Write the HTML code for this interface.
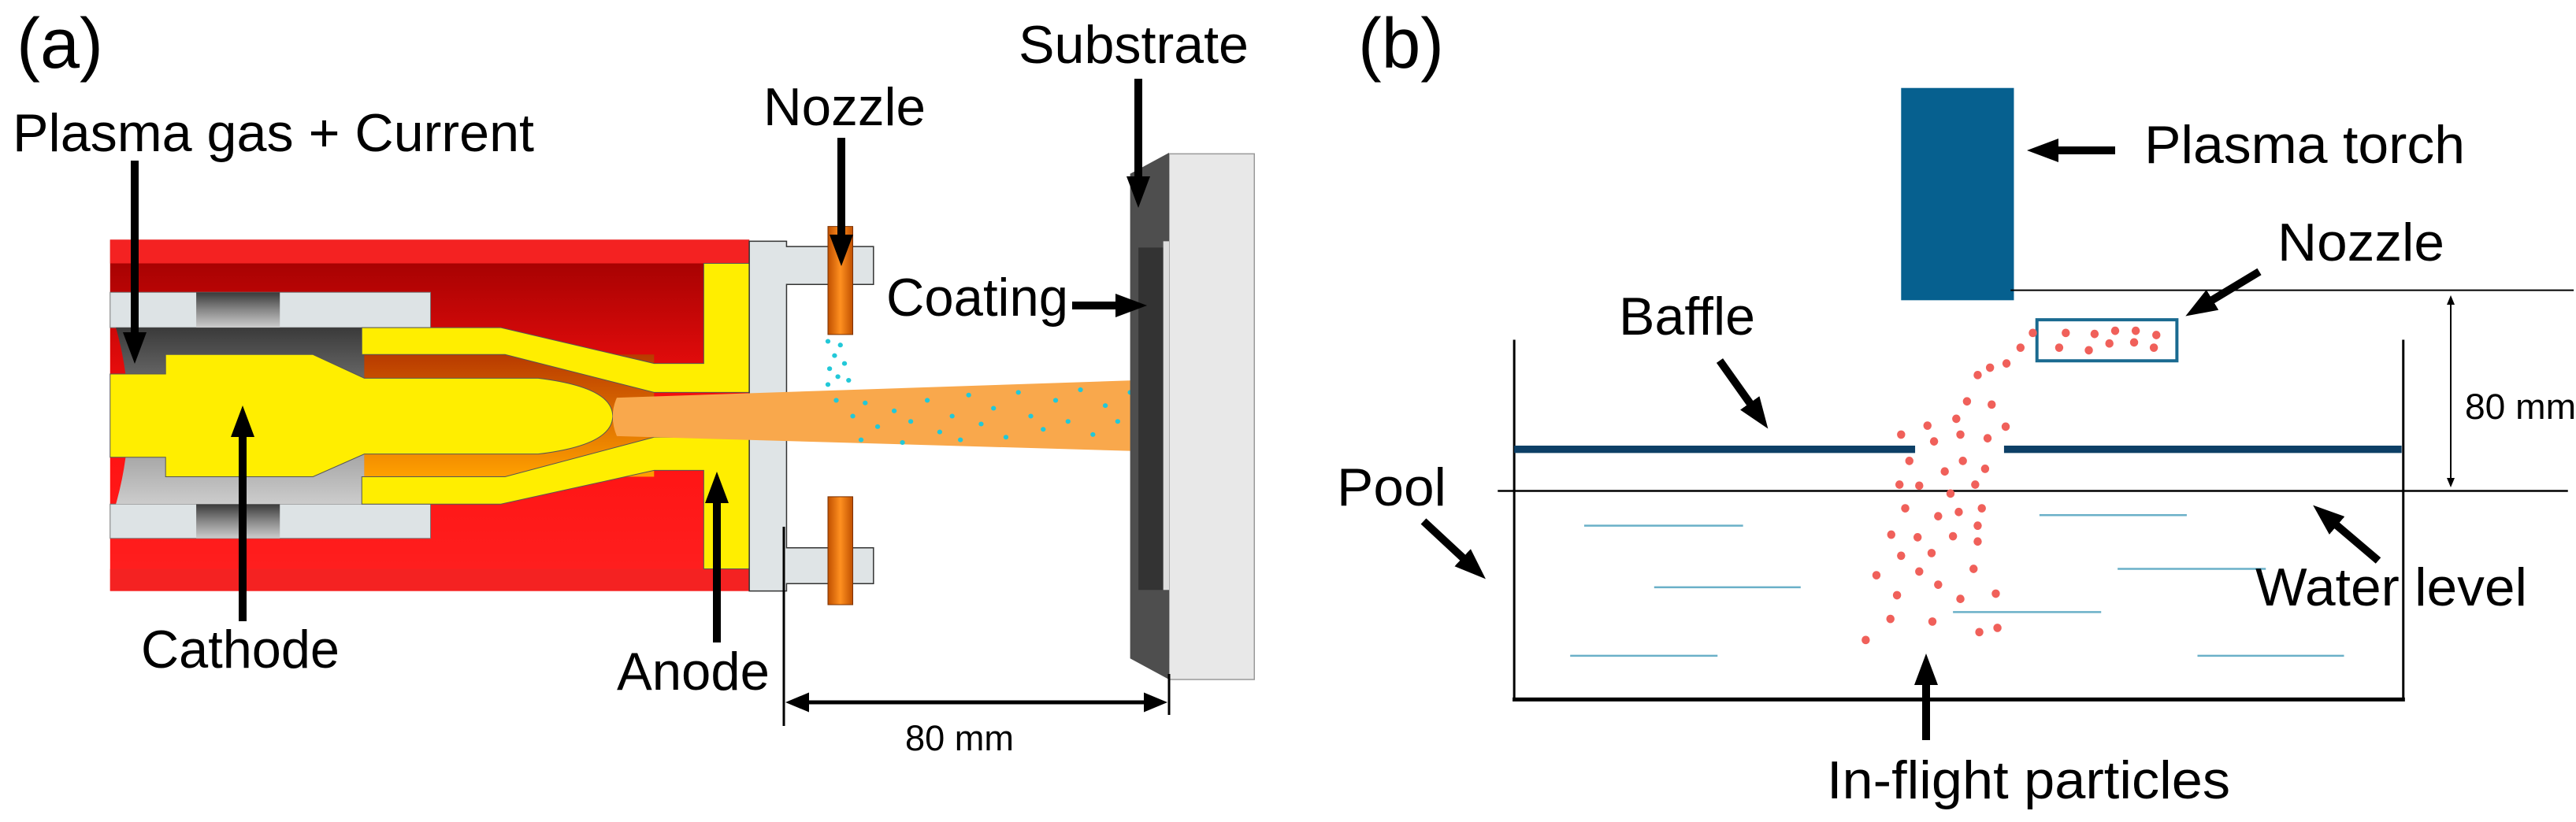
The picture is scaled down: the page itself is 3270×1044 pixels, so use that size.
<!DOCTYPE html>
<html><head><meta charset="utf-8"><style>html,body{margin:0;padding:0;background:#fff}svg{display:block}</style></head>
<body>
<svg width="3270" height="1044" viewBox="0 0 3270 1044" xmlns="http://www.w3.org/2000/svg" font-family="Liberation Sans, Arial, sans-serif">
<defs>
<marker id="ah" markerWidth="4" markerHeight="3" refX="1" refY="1.5" orient="auto" markerUnits="strokeWidth"><path d="M0,0 L4,1.5 L0,3 z" fill="#000"/></marker>
<marker id="sm" markerWidth="6" markerHeight="5" refX="1" refY="2.5" orient="auto-start-reverse" markerUnits="strokeWidth"><path d="M0,0 L6,2.5 L0,5 z" fill="#000"/></marker>
<linearGradient id="rd" x1="0" y1="0" x2="0" y2="1"><stop offset="0" stop-color="#9a0000"/><stop offset="0.5" stop-color="#ff1010"/><stop offset="1" stop-color="#ff2020"/></linearGradient>
<linearGradient id="gr" x1="0" y1="0" x2="0" y2="1"><stop offset="0" stop-color="#3a3a3a"/><stop offset="0.5" stop-color="#888"/><stop offset="1" stop-color="#ccc"/></linearGradient>
<linearGradient id="og" x1="0" y1="0" x2="0" y2="1"><stop offset="0" stop-color="#b83a00"/><stop offset="1" stop-color="#ffa000"/></linearGradient>
<linearGradient id="nz" x1="0" y1="0" x2="1" y2="0"><stop offset="0" stop-color="#c05000"/><stop offset="0.5" stop-color="#ff9020"/><stop offset="1" stop-color="#c05000"/></linearGradient>
</defs>

<!-- LEFT PANEL shapes (zoom coords) -->
<g transform="scale(1.051,0.669)">
  <rect x="133" y="455" width="772" height="667" fill="url(#rd)"/>
  <rect x="133" y="455" width="772" height="45" fill="#f42222"/>
  <rect x="133" y="1080" width="772" height="42" fill="#f42222"/>
  <!-- rings -->
  <rect x="133" y="555" width="387" height="67" fill="#dde3e5" stroke="#777" stroke-width="1" vector-effect="non-scaling-stroke"/>
  <rect x="237" y="555" width="101" height="67" fill="url(#gr)"/>
  <rect x="133" y="957" width="387" height="65" fill="#dde3e5" stroke="#777" stroke-width="1" vector-effect="non-scaling-stroke"/>
  <rect x="237" y="957" width="101" height="65" fill="url(#gr)"/>
  <!-- cavity -->
  <path d="M140,622 L440,622 L440,957 L140,957 Q170,790 140,622 Z" fill="url(#gr)"/>
  <!-- orange channel -->
  <rect x="440" y="673" width="350" height="232" fill="url(#og)"/>
  <!-- anode -->
  <path d="M437,622 L605,622 L790,690 L850,690 L850,500 L905,500 L905,745 L790,745 L610,673 L437,673 Z" fill="#ffee00" stroke="#555" stroke-width="1" vector-effect="non-scaling-stroke"/>
  <path d="M437,957 L605,957 L790,893 L850,893 L850,1080 L905,1080 L905,830 L790,830 L610,905 L437,905 Z" fill="#ffee00" stroke="#555" stroke-width="1" vector-effect="non-scaling-stroke"/>
  <!-- cathode -->
  <path d="M133,710 L200,710 L200,673 L378,673 L440,718 L650,718 Q740,735 740,790 Q740,845 650,862 L440,862 L378,905 L200,905 L200,868 L133,868 Z" fill="#ffee00" stroke="#555" stroke-width="1" vector-effect="non-scaling-stroke"/>
  <!-- flange -->
  <path d="M905,458 L950,458 L950,468 L1055,468 L1055,540 L950,540 L950,1040 L1055,1040 L1055,1108 L950,1108 L950,1122 L905,1122 Z" fill="#dfe4e6" stroke="#333" stroke-width="1.5" vector-effect="non-scaling-stroke"/>
  <!-- jet -->
  <path d="M745,755 L1410,720 L1410,858 L745,828 Q735,790 745,755 Z" fill="#f9a84c"/>
  <!-- nozzles -->
  <rect x="1000" y="430" width="30" height="205" fill="url(#nz)" stroke="#7a3000" stroke-width="1" vector-effect="non-scaling-stroke"/>
  <rect x="1000" y="943" width="30" height="205" fill="url(#nz)" stroke="#7a3000" stroke-width="1" vector-effect="non-scaling-stroke"/>
  <!-- cyan particles -->
  <g fill="#22c8d8">
    <ellipse cx="1000" cy="648" rx="3" ry="4.5"/><ellipse cx="1015" cy="655" rx="3" ry="4.5"/><ellipse cx="1008" cy="675" rx="3" ry="4.5"/><ellipse cx="1020" cy="690" rx="3" ry="4.5"/><ellipse cx="1002" cy="700" rx="3" ry="4.5"/><ellipse cx="1012" cy="715" rx="3" ry="4.5"/><ellipse cx="1025" cy="722" rx="3" ry="4.5"/><ellipse cx="1000" cy="730" rx="3" ry="4.5"/>
    <ellipse cx="1010" cy="760" rx="3" ry="4.5"/><ellipse cx="1030" cy="790" rx="3" ry="4.5"/><ellipse cx="1045" cy="765" rx="3" ry="4.5"/><ellipse cx="1060" cy="810" rx="3" ry="4.5"/><ellipse cx="1080" cy="780" rx="3" ry="4.5"/><ellipse cx="1100" cy="800" rx="3" ry="4.5"/><ellipse cx="1120" cy="760" rx="3" ry="4.5"/><ellipse cx="1135" cy="820" rx="3" ry="4.5"/><ellipse cx="1150" cy="790" rx="3" ry="4.5"/><ellipse cx="1170" cy="750" rx="3" ry="4.5"/><ellipse cx="1185" cy="805" rx="3" ry="4.5"/><ellipse cx="1200" cy="775" rx="3" ry="4.5"/><ellipse cx="1215" cy="830" rx="3" ry="4.5"/><ellipse cx="1230" cy="745" rx="3" ry="4.5"/><ellipse cx="1245" cy="790" rx="3" ry="4.5"/><ellipse cx="1260" cy="815" rx="3" ry="4.5"/><ellipse cx="1275" cy="760" rx="3" ry="4.5"/><ellipse cx="1290" cy="800" rx="3" ry="4.5"/><ellipse cx="1305" cy="740" rx="3" ry="4.5"/><ellipse cx="1320" cy="825" rx="3" ry="4.5"/><ellipse cx="1335" cy="770" rx="3" ry="4.5"/><ellipse cx="1350" cy="800" rx="3" ry="4.5"/><ellipse cx="1365" cy="745" rx="3" ry="4.5"/><ellipse cx="1380" cy="785" rx="3" ry="4.5"/><ellipse cx="1390" cy="820" rx="3" ry="4.5"/><ellipse cx="1040" cy="835" rx="3" ry="4.5"/><ellipse cx="1090" cy="840" rx="3" ry="4.5"/><ellipse cx="1160" cy="835" rx="3" ry="4.5"/>
  </g>
  <!-- substrate -->
  <rect x="1412" y="292" width="103" height="998" fill="#e8e8e8" stroke="#999" stroke-width="1.5" vector-effect="non-scaling-stroke"/>
  <path d="M1365,330 L1412,290 L1412,1290 L1365,1250 Z" fill="#4e4e4e"/>
  <rect x="1375" y="470" width="30" height="650" fill="#333"/>
  <rect x="1405" y="458" width="7" height="662" fill="#ddd"/>
</g>

<!-- LEFT arrows -->
<g stroke="#000" stroke-width="10" fill="none">
  <line x1="171" y1="204" x2="171" y2="432" marker-end="url(#ah)"/>
  <line x1="1068" y1="175" x2="1068" y2="308" marker-end="url(#ah)"/>
  <line x1="1445" y1="100" x2="1445" y2="234" marker-end="url(#ah)"/>
  <line x1="1361" y1="388" x2="1426" y2="388" marker-end="url(#ah)"/>
  <line x1="308" y1="789" x2="308" y2="545" marker-end="url(#ah)"/>
  <line x1="910" y1="816" x2="910" y2="629" marker-end="url(#ah)"/>
</g>
<g stroke="#000" fill="none">
  <line x1="995" y1="669" x2="995" y2="922" stroke-width="3"/>
  <line x1="1484" y1="856" x2="1484" y2="908" stroke-width="3"/>
  <line x1="1022" y1="892" x2="1457" y2="892" stroke-width="5" marker-start="url(#sm)" marker-end="url(#sm)"/>
</g>

<!-- LEFT text -->
<g fill="#000">
  <text x="21" y="86" font-size="90" textLength="110" lengthAdjust="spacingAndGlyphs">(a)</text>
  <text x="16" y="192" font-size="68" textLength="662" lengthAdjust="spacingAndGlyphs">Plasma gas + Current</text>
  <text x="969" y="159" font-size="68" textLength="206" lengthAdjust="spacingAndGlyphs">Nozzle</text>
  <text x="1293" y="80" font-size="68" textLength="292" lengthAdjust="spacingAndGlyphs">Substrate</text>
  <text x="1125" y="401" font-size="68" textLength="231" lengthAdjust="spacingAndGlyphs">Coating</text>
  <text x="179" y="848" font-size="68" textLength="252" lengthAdjust="spacingAndGlyphs">Cathode</text>
  <text x="783" y="876" font-size="68" textLength="194" lengthAdjust="spacingAndGlyphs">Anode</text>
  <text x="1149" y="953" font-size="45" textLength="138" lengthAdjust="spacingAndGlyphs">80 mm</text>
</g>

<!-- RIGHT PANEL shapes (zoom coords) -->
<g transform="translate(1640,0) scale(1.045,0.669)">
  <rect x="740" y="167" width="137" height="403" fill="#06608f"/>
  <line x1="873" y1="551" x2="1557" y2="551" stroke="#000" stroke-width="2" vector-effect="non-scaling-stroke"/>
  <rect x="905" y="607" width="170" height="78" fill="none" stroke="#1a6a90" stroke-width="4" vector-effect="non-scaling-stroke"/>
  <line x1="270" y1="645" x2="270" y2="1330" stroke="#000" stroke-width="3" vector-effect="non-scaling-stroke"/>
  <line x1="1350" y1="645" x2="1350" y2="1330" stroke="#000" stroke-width="3" vector-effect="non-scaling-stroke"/>
  <line x1="268" y1="1328" x2="1352" y2="1328" stroke="#000" stroke-width="5" vector-effect="non-scaling-stroke"/>
  <line x1="250" y1="932" x2="1550" y2="932" stroke="#000" stroke-width="2.5" vector-effect="non-scaling-stroke"/>
  <rect x="270" y="846" width="487" height="14" fill="#0d3f66"/>
  <rect x="865" y="846" width="483" height="14" fill="#0d3f66"/>
  <g stroke="#6ab0c8" stroke-width="2.5" vector-effect="non-scaling-stroke">
    <line x1="355" y1="998" x2="548" y2="998" vector-effect="non-scaling-stroke"/>
    <line x1="908" y1="978" x2="1087" y2="978" vector-effect="non-scaling-stroke"/>
    <line x1="440" y1="1115" x2="618" y2="1115" vector-effect="non-scaling-stroke"/>
    <line x1="1003" y1="1080" x2="1183" y2="1080" vector-effect="non-scaling-stroke"/>
    <line x1="803" y1="1162" x2="983" y2="1162" vector-effect="non-scaling-stroke"/>
    <line x1="338" y1="1245" x2="517" y2="1245" vector-effect="non-scaling-stroke"/>
    <line x1="1100" y1="1245" x2="1278" y2="1245" vector-effect="non-scaling-stroke"/>
  </g>
  <g fill="#f0605a">
    <ellipse cx="940" cy="632" rx="5" ry="8"/><ellipse cx="975" cy="634" rx="5" ry="8"/><ellipse cx="1000" cy="628" rx="5" ry="8"/><ellipse cx="1025" cy="628" rx="5" ry="8"/><ellipse cx="1050" cy="636" rx="5" ry="8"/><ellipse cx="932" cy="660" rx="5" ry="8"/><ellipse cx="968" cy="665" rx="5" ry="8"/><ellipse cx="993" cy="652" rx="5" ry="8"/><ellipse cx="1023" cy="650" rx="5" ry="8"/><ellipse cx="1047" cy="660" rx="5" ry="8"/>
    <ellipse cx="900" cy="632" rx="5" ry="8"/><ellipse cx="885" cy="660" rx="5" ry="8"/><ellipse cx="868" cy="690" rx="5" ry="8"/><ellipse cx="848" cy="698" rx="5" ry="8"/><ellipse cx="833" cy="712" rx="5" ry="8"/><ellipse cx="820" cy="762" rx="5" ry="8"/><ellipse cx="850" cy="768" rx="5" ry="8"/><ellipse cx="807" cy="795" rx="5" ry="8"/><ellipse cx="772" cy="808" rx="5" ry="8"/><ellipse cx="867" cy="810" rx="5" ry="8"/><ellipse cx="740" cy="825" rx="5" ry="8"/><ellipse cx="780" cy="838" rx="5" ry="8"/><ellipse cx="812" cy="825" rx="5" ry="8"/><ellipse cx="845" cy="832" rx="5" ry="8"/><ellipse cx="750" cy="875" rx="5" ry="8"/><ellipse cx="815" cy="875" rx="5" ry="8"/><ellipse cx="793" cy="895" rx="5" ry="8"/><ellipse cx="842" cy="890" rx="5" ry="8"/><ellipse cx="738" cy="920" rx="5" ry="8"/><ellipse cx="762" cy="922" rx="5" ry="8"/><ellipse cx="800" cy="937" rx="5" ry="8"/><ellipse cx="830" cy="920" rx="5" ry="8"/><ellipse cx="745" cy="965" rx="5" ry="8"/><ellipse cx="785" cy="980" rx="5" ry="8"/><ellipse cx="810" cy="972" rx="5" ry="8"/><ellipse cx="838" cy="965" rx="5" ry="8"/><ellipse cx="833" cy="998" rx="5" ry="8"/><ellipse cx="728" cy="1015" rx="5" ry="8"/><ellipse cx="760" cy="1020" rx="5" ry="8"/><ellipse cx="803" cy="1018" rx="5" ry="8"/><ellipse cx="833" cy="1028" rx="5" ry="8"/><ellipse cx="740" cy="1055" rx="5" ry="8"/><ellipse cx="777" cy="1050" rx="5" ry="8"/><ellipse cx="710" cy="1092" rx="5" ry="8"/><ellipse cx="762" cy="1085" rx="5" ry="8"/><ellipse cx="828" cy="1080" rx="5" ry="8"/><ellipse cx="785" cy="1110" rx="5" ry="8"/><ellipse cx="735" cy="1130" rx="5" ry="8"/><ellipse cx="812" cy="1137" rx="5" ry="8"/><ellipse cx="855" cy="1127" rx="5" ry="8"/><ellipse cx="727" cy="1175" rx="5" ry="8"/><ellipse cx="778" cy="1180" rx="5" ry="8"/><ellipse cx="835" cy="1200" rx="5" ry="8"/><ellipse cx="857" cy="1192" rx="5" ry="8"/><ellipse cx="697" cy="1215" rx="5" ry="8"/>
  </g>
</g>

<!-- RIGHT arrows -->
<g stroke="#000" stroke-width="10" fill="none">
  <line x1="2685" y1="191" x2="2603" y2="191" marker-end="url(#ah)"/>
  <line x1="2868" y1="345" x2="2800" y2="386" marker-end="url(#ah)"/>
  <line x1="2183" y1="458" x2="2227" y2="520" marker-end="url(#ah)"/>
  <line x1="1807" y1="662" x2="1864" y2="715" marker-end="url(#ah)"/>
  <line x1="3019" y1="712" x2="2959" y2="661" marker-end="url(#ah)"/>
  <line x1="2445" y1="940" x2="2445" y2="860" marker-end="url(#ah)"/>
</g>
<line x1="3111" y1="385" x2="3111" y2="609" stroke="#000" stroke-width="2" marker-start="url(#sm)" marker-end="url(#sm)"/>

<!-- RIGHT text -->
<g fill="#000">
  <text x="1724" y="86" font-size="90" textLength="109" lengthAdjust="spacingAndGlyphs">(b)</text>
  <text x="2722" y="207" font-size="68" textLength="407" lengthAdjust="spacingAndGlyphs">Plasma torch</text>
  <text x="2891" y="331" font-size="68" textLength="212" lengthAdjust="spacingAndGlyphs">Nozzle</text>
  <text x="2055" y="425" font-size="68" textLength="173" lengthAdjust="spacingAndGlyphs">Baffle</text>
  <text x="1697" y="642" font-size="68" textLength="139" lengthAdjust="spacingAndGlyphs">Pool</text>
  <text x="2863" y="769" font-size="68" textLength="345" lengthAdjust="spacingAndGlyphs">Water level</text>
  <text x="3129" y="532" font-size="45" textLength="141" lengthAdjust="spacingAndGlyphs">80 mm</text>
  <text x="2319" y="1014" font-size="68" textLength="512" lengthAdjust="spacingAndGlyphs">In-flight particles</text>
</g>
</svg>
</body></html>
